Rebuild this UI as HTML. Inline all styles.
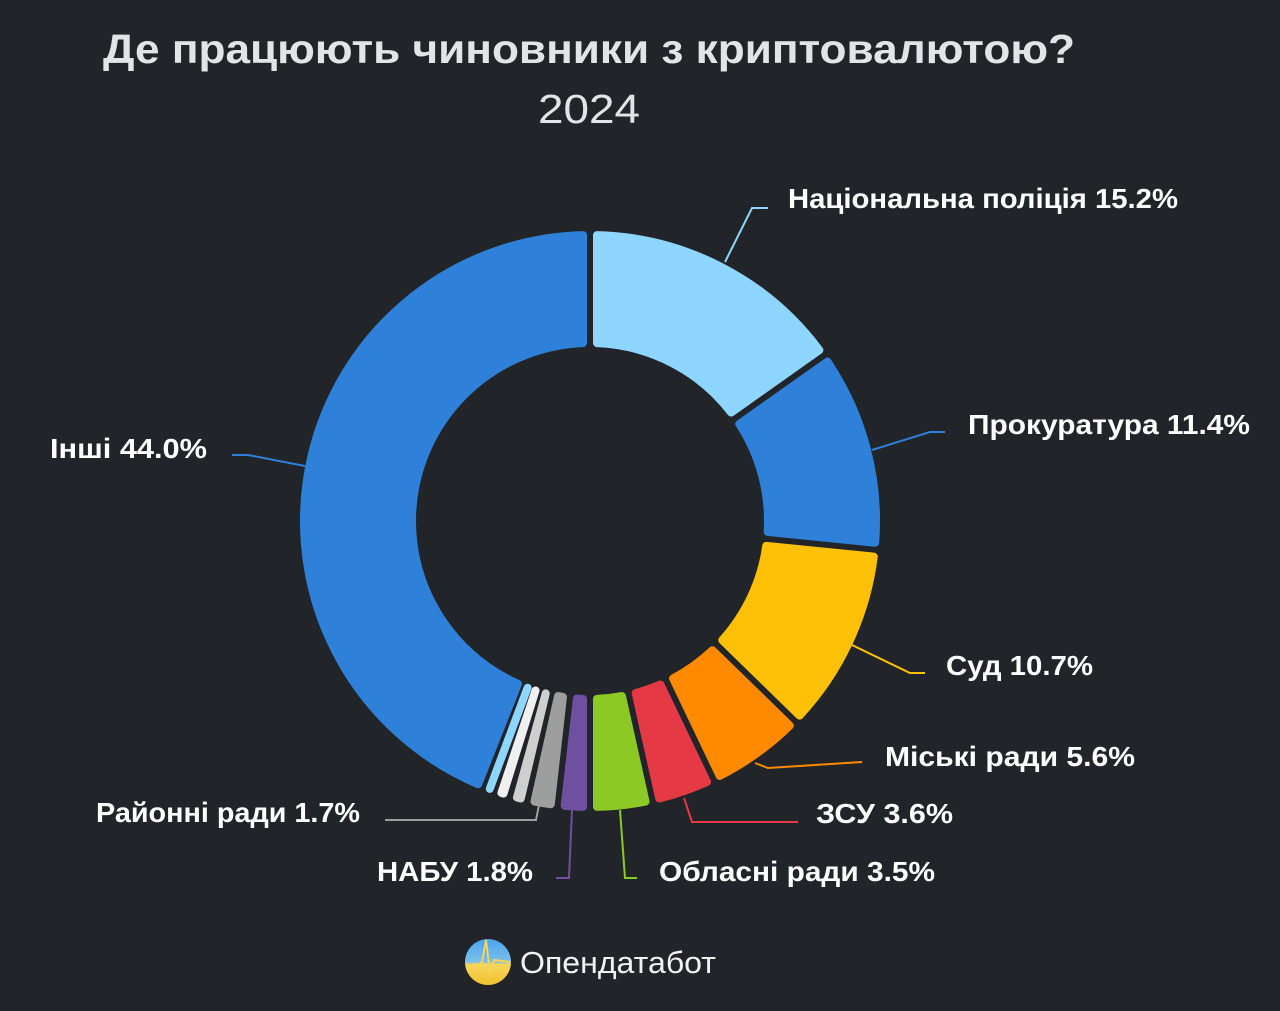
<!DOCTYPE html>
<html><head><meta charset="utf-8">
<style>
html,body{margin:0;padding:0;background:#212428;}
svg{display:block;}
.l{font-family:"Liberation Sans",sans-serif;font-weight:bold;font-size:28px;fill:#fff;}
</style></head>
<body>
<svg id="s" width="1280" height="1011" viewBox="0 0 1280 1011" xmlns="http://www.w3.org/2000/svg">
<rect width="1280" height="1011" fill="#212428"/>
<text x="103" y="63" textLength="972" lengthAdjust="spacingAndGlyphs" style="font-family:'Liberation Sans',sans-serif;font-weight:bold;font-size:41px;fill:#e3e4e8">Де працюють чиновники з криптовалютою?</text>
<text x="589" y="123" text-anchor="middle" textLength="102" lengthAdjust="spacingAndGlyphs" style="font-family:'Liberation Sans',sans-serif;font-size:41px;fill:#e3e4e8">2024</text>
<g id="donut"></g>
<g fill="none" stroke-width="2">
<polyline points="725,262 752,208 768,208" stroke="#8ed6ff"/>
<polyline points="872,450 930,432 945,432" stroke="#2f80d9"/>
<polyline points="852,645 910,673 925,673" stroke="#ffc107"/>
<polyline points="755,763 768,768 862,762" stroke="#ff8a00"/>
<polyline points="684,798 692,822 798,822" stroke="#e63946"/>
<polyline points="620,810 625,878 637,878" stroke="#8cc925"/>
<polyline points="572,810 569,878 556,878" stroke="#6f4fa0"/>
<polyline points="540,800 536,820 385,820" stroke="#9e9e9e"/>
<polyline points="305,466 248,455 232,455" stroke="#2f80d9"/>
</g>
<text class="l" x="788" y="208" textLength="390" lengthAdjust="spacingAndGlyphs">Національна поліція 15.2%</text>
<text class="l" x="968" y="434" textLength="282" lengthAdjust="spacingAndGlyphs">Прокуратура 11.4%</text>
<text class="l" x="946" y="675" textLength="147" lengthAdjust="spacingAndGlyphs">Суд 10.7%</text>
<text class="l" x="885" y="766" textLength="250" lengthAdjust="spacingAndGlyphs">Міські ради 5.6%</text>
<text class="l" x="816" y="823" textLength="137" lengthAdjust="spacingAndGlyphs">ЗСУ 3.6%</text>
<text class="l" x="659" y="881" textLength="276" lengthAdjust="spacingAndGlyphs">Обласні ради 3.5%</text>
<text class="l" x="377" y="881" textLength="156" lengthAdjust="spacingAndGlyphs">НАБУ 1.8%</text>
<text class="l" x="96" y="822" textLength="264" lengthAdjust="spacingAndGlyphs">Районні ради 1.7%</text>
<text class="l" x="50" y="458" textLength="157" lengthAdjust="spacingAndGlyphs">Інші 44.0%</text>
<defs>
<linearGradient id="lg" x1="0" y1="0" x2="0" y2="1">
<stop offset="0" stop-color="#4aa3ee"/><stop offset="0.5" stop-color="#7cc0e8"/><stop offset="0.55" stop-color="#f5d65a"/><stop offset="1" stop-color="#f2c230"/>
</linearGradient>
</defs>
<circle cx="488" cy="962" r="23" fill="url(#lg)"/>
<polyline points="466,968 476,966 482,962 486,940 490,972 494,960 510,962" fill="none" stroke="#f5d65a" stroke-width="2"/>
<text x="520" y="973" textLength="196" lengthAdjust="spacingAndGlyphs" style="font-family:'Liberation Sans',sans-serif;font-size:31px;fill:#f2f2f2">Опендатабот</text>
</svg>
<script>
var cx=590,cy=521,R=290,r=174,ins=4,d=7;
var data=[[15.2,"#8ed6ff"],[11.4,"#2f80d9"],[10.7,"#ffc107"],[5.6,"#ff8a00"],[3.6,"#e63946"],[3.5,"#8cc925"],[1.8,"#6f4fa0"],[1.7,"#9e9e9e"],[1.0,"#cfcfcf"],[0.9,"#f0f0f0"],[0.6,"#8ed6ff"],[44.0,"#2f80d9"]];
var tot=0;data.forEach(function(x){tot+=x[0];});
function pt(a,rad){return [cx+rad*Math.sin(a),cy-rad*Math.cos(a)];}
var a=0,out="";
data.forEach(function(x){
 var a0=a,a1=a+x[0]/tot*2*Math.PI;a=a1;
 var Ro=R-ins,Ri=r+ins;
 var s0o=a0+Math.asin(d/Ro),s1o=a1-Math.asin(d/Ro);
 var s0i=a0+Math.asin(d/Ri),s1i=a1-Math.asin(d/Ri);
 if(s1i<s0i){var m=(s0i+s1i)/2;s0i=s1i=m;}
 if(s1o<s0o){var m2=(s0o+s1o)/2;s0o=s1o=m2;}
 var p1=pt(s0o,Ro),p2=pt(s1o,Ro),p3=pt(s1i,Ri),p4=pt(s0i,Ri);
 var lo=(s1o-s0o)>Math.PI?1:0,li=(s1i-s0i)>Math.PI?1:0;
 out+='<path d="M'+p1+' A'+Ro+','+Ro+' 0 '+lo+' 1 '+p2+' L'+p3+' A'+Ri+','+Ri+' 0 '+li+' 0 '+p4+' Z" fill="'+x[1]+'" stroke="'+x[1]+'" stroke-width="8" stroke-linejoin="round"/>';
});
document.getElementById("donut").innerHTML=out;
</script>
</body></html>
